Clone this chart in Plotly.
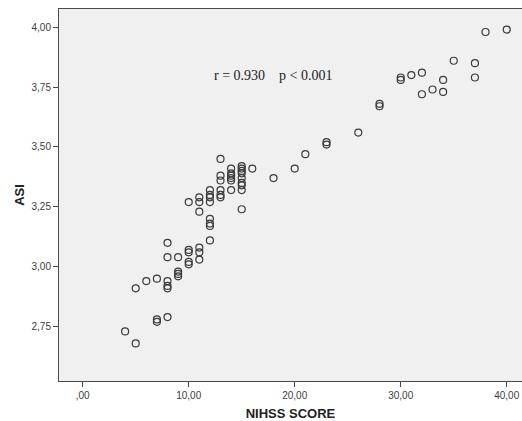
import plotly.graph_objects as go

# NIHSS score (x) and ASI (y)
nihss = [4,
         5, 5,
         6,
         7, 7, 7,
         8, 8, 8, 8, 8, 8,
         9, 9, 9, 9,
         10, 10, 10, 10, 10,
         11, 11, 11, 11, 11, 11,
         12, 12, 12, 12, 12, 12, 12, 12,
         13, 13, 13, 13, 13, 13,
         14, 14, 14, 14, 14, 14,
         15, 15, 15, 15, 15, 15, 15, 15, 15,
         16, 18, 20, 21,
         23, 23,
         26,
         28, 28,
         30, 30,
         31,
         32, 32,
         33,
         34, 34,
         35,
         37, 37,
         38, 40]
asi = [2.73,
       2.68, 2.91,
       2.94,
       2.95, 2.78, 2.77,
       2.79, 3.10, 3.04, 2.94, 2.92, 2.91,
       3.04, 2.98, 2.97, 2.96,
       3.07, 3.06, 3.02, 3.01, 3.27,
       3.08, 3.06, 3.03, 3.23, 3.29, 3.27,
       3.11, 3.20, 3.18, 3.17, 3.32, 3.30, 3.29, 3.27,
       3.45, 3.38, 3.36, 3.32, 3.30, 3.29,
       3.41, 3.39, 3.38, 3.37, 3.36, 3.32,
       3.42, 3.41, 3.40, 3.39, 3.37, 3.35, 3.34, 3.32, 3.24,
       3.41, 3.37, 3.41, 3.47,
       3.52, 3.51,
       3.56,
       3.68, 3.67,
       3.79, 3.78,
       3.80,
       3.81, 3.72,
       3.74,
       3.78, 3.73,
       3.86,
       3.85, 3.79,
       3.98, 3.99]

x_ticks = [0, 10, 20, 30, 40]
x_ticktext = [",00", "10,00", "20,00", "30,00", "40,00"]
y_ticks = [2.75, 3.00, 3.25, 3.50, 3.75, 4.00]
y_ticktext = ["2,75", "3,00", "3,25", "3,50", "3,75", "4,00"]

annotation_text = "r = 0.930&nbsp;&nbsp;&nbsp;&nbsp;p < 0.001"

fig = go.Figure()
fig.add_trace(go.Scatter(
    x=nihss, y=asi, mode="markers",
    marker=dict(symbol="circle-open", size=7, color="#3a3a3a",
                line=dict(width=1.2, color="#3a3a3a")),
    showlegend=False, hoverinfo="skip"))

fig.add_annotation(x=17.95, y=3.80, xref="x", yref="y", text=annotation_text,
                   showarrow=False,
                   font=dict(family="Liberation Serif", size=14, color="#222222"))

axis_font = dict(family="Liberation Sans, Arial", size=10, color="#3c3c3c")
fig.update_layout(
    width=522, height=421,
    margin=dict(l=59, r=0, t=9, b=40),
    paper_bgcolor="white",
    plot_bgcolor="#f0f0f0",
    xaxis=dict(range=[-2.236, 41.44], tickvals=x_ticks, ticktext=x_ticktext,
               showgrid=False, zeroline=False, showline=True, linecolor="#4a4a4a",
               linewidth=1, mirror=True, ticks="outside", ticklen=5, tickcolor="#4a4a4a",
               tickfont=axis_font,
               title=dict(text="<b>NIHSS SCORE</b>", standoff=8,
                          font=dict(family="Liberation Sans, Arial", size=13, color="#222222"))),
    yaxis=dict(range=[2.523, 4.076], tickvals=y_ticks, ticktext=y_ticktext,
               showgrid=False, zeroline=False, showline=True, linecolor="#4a4a4a",
               linewidth=1, ticks="outside", ticklen=5, tickcolor="#4a4a4a",
               tickfont=axis_font,
               title=dict(text="<b>ASI</b>", standoff=3,
                          font=dict(family="Liberation Sans, Arial", size=13, color="#222222"))),
)

fig.write_html("out.html", config={"displayModeBar": False},
               post_script="document.body.style.margin='0';document.body.style.overflow='hidden';")
